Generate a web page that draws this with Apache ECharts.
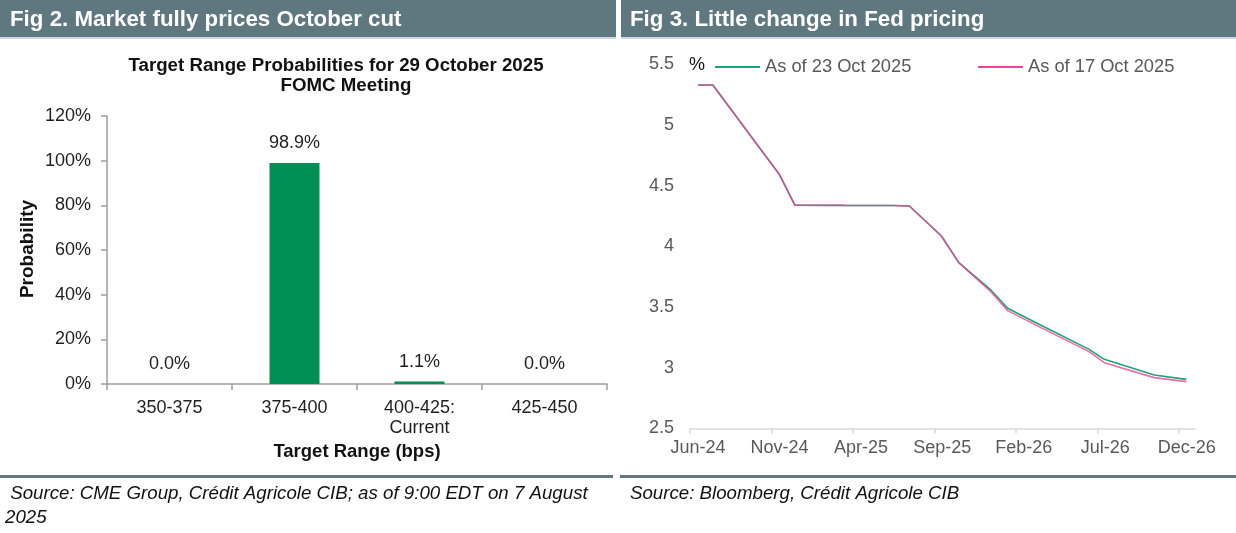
<!DOCTYPE html>
<html><head><meta charset="utf-8">
<script src="https://cdn.jsdelivr.net/npm/echarts@6/dist/echarts.min.js"></script>
<style>html,body{margin:0;padding:0;background:#fff}#c{width:1236px;height:533px}</style>
</head><body><div id="c"></div>
<script>
// ---- Fig 2 data ----
const barCategories = ['350-375', '375-400', '400-425:\nCurrent', '425-450'];
const barValues = [0.0, 98.9, 1.1, 0.0];
const barYMin = 0, barYMax = 120, barYStep = 20;

// ---- Fig 3 data ----
const datesOct23 = ['2024-06-16','2024-07-13','2024-11-16','2024-12-14','2025-03-15','2025-06-14','2025-07-15','2025-09-14','2025-10-16','2025-12-15','2026-01-16','2026-03-20','2026-06-16','2026-07-14','2026-10-16','2026-12-15'];
const valuesOct23 = [5.33, 5.33, 4.59, 4.34, 4.338, 4.337, 4.333, 4.086, 3.866, 3.641, 3.490, 3.344, 3.152, 3.070, 2.941, 2.905];
const datesOct17 = ['2024-06-16','2024-07-13','2024-11-16','2024-12-14','2025-03-15','2025-06-14','2025-07-15','2025-09-14','2025-10-16','2025-12-15','2026-01-16','2026-03-20','2026-06-16','2026-07-14','2026-10-16','2026-12-15'];
const valuesOct17 = [5.33, 5.33, 4.59, 4.34, 4.338, 4.337, 4.333, 4.086, 3.866, 3.627, 3.471, 3.325, 3.133, 3.042, 2.919, 2.886];
const lineXTickLabels = ['Jun-24', 'Nov-24', 'Apr-25', 'Sep-25', 'Feb-26', 'Jul-26', 'Dec-26'];
const lineYMin = 2.5, lineYMax = 5.5, lineYStep = 0.5;

const FONT = '"Liberation Sans", Arial, sans-serif';
const HEADER = '#5f7880';

// months since 1 Jun 2024
function toMonths(s) {
  const [y, m, d] = s.split('-').map(Number);
  return (y - 2024) * 12 + (m - 6) + (d - 1) / 30;
}
const xTickValues = lineXTickLabels.map((_, i) => i * 5);
const xLabelMap = {};
xTickValues.forEach((v, i) => xLabelMap[v] = lineXTickLabels[i]);

const chart = echarts.init(document.getElementById('c'), null, {renderer: 'canvas'});
chart.setOption({
  backgroundColor: '#fff',
  animation: false,
  textStyle: {fontFamily: FONT},
  graphic: [
    {type: 'rect', shape: {x: 0, y: 0, width: 616, height: 37}, style: {fill: HEADER}},
    {type: 'rect', shape: {x: 0, y: 37, width: 616, height: 2}, style: {fill: '#cfd8dc'}},
    {type: 'rect', shape: {x: 621, y: 0, width: 615, height: 37}, style: {fill: HEADER}},
    {type: 'rect', shape: {x: 621, y: 37, width: 615, height: 2}, style: {fill: '#cfd8dc'}},
    {type: 'text', x: 10, y: 20, style: {text: 'Fig 2. Market fully prices October cut', fill: '#fff', font: 'bold 22.3px ' + FONT, textVerticalAlign: 'middle'}},
    {type: 'text', x: 630, y: 20, style: {text: 'Fig 3. Little change in Fed pricing', fill: '#fff', font: 'bold 22.3px ' + FONT, textVerticalAlign: 'middle'}},
    {type: 'text', x: 336, y: 66, style: {text: 'Target Range Probabilities for 29 October 2025', fill: '#111', font: 'bold 18.7px ' + FONT, textAlign: 'center', textVerticalAlign: 'middle'}},
    {type: 'text', x: 346, y: 86, style: {text: 'FOMC Meeting', fill: '#111', font: 'bold 18.7px ' + FONT, textAlign: 'center', textVerticalAlign: 'middle'}},
    {type: 'text', x: 28, y: 249, rotation: Math.PI / 2, style: {text: 'Probability', fill: '#111', font: 'bold 19px ' + FONT, textAlign: 'center', textVerticalAlign: 'middle'}},
    {type: 'text', x: 697, y: 65, style: {text: '%', fill: '#111', font: '18px ' + FONT, textAlign: 'center', textVerticalAlign: 'middle'}},
    {type: 'rect', shape: {x: 0, y: 475, width: 613, height: 3}, style: {fill: HEADER}},
    {type: 'rect', shape: {x: 620, y: 475, width: 616, height: 3}, style: {fill: HEADER}},
    {type: 'text', x: 5, y: 494, style: {text: ' Source: CME Group, Crédit Agricole CIB; as of 9:00 EDT on 7 August', fill: '#111', font: 'italic 18.7px ' + FONT, textVerticalAlign: 'middle'}},
    {type: 'text', x: 5, y: 518, style: {text: '2025', fill: '#111', font: 'italic 18.7px ' + FONT, textVerticalAlign: 'middle'}},
    {type: 'text', x: 630, y: 494, style: {text: 'Source: Bloomberg, Crédit Agricole CIB', fill: '#111', font: 'italic 18.7px ' + FONT, textVerticalAlign: 'middle'}}
  ],
  legend: [
    {data: ['As of 23 Oct 2025'], left: 710, top: 52, icon: 'rect', itemWidth: 45, itemHeight: 2,
     textStyle: {color: '#595959', fontSize: 18.3, fontFamily: FONT, lineHeight: 20}},
    {data: ['As of 17 Oct 2025'], left: 973, top: 52, icon: 'rect', itemWidth: 45, itemHeight: 2,
     textStyle: {color: '#595959', fontSize: 18.3, fontFamily: FONT, lineHeight: 20}}
  ],
  grid: [
    {left: 107, top: 116, width: 500, height: 268, containLabel: false},
    {left: 690, top: 64.3, width: 505, height: 364.2, containLabel: false}
  ],
  xAxis: [
    {
      gridIndex: 0, type: 'category', data: barCategories,
      axisLine: {lineStyle: {color: '#9e9e9e', width: 1.5}},
      axisTick: {show: true, length: 6, lineStyle: {color: '#9e9e9e', width: 1.5}},
      axisLabel: {color: '#1f1f1f', fontSize: 18, lineHeight: 20, margin: 14, fontFamily: FONT, interval: 0},
      name: 'Target Range (bps)', nameLocation: 'middle', nameGap: 54,
      nameTextStyle: {color: '#111', fontSize: 18.5, fontWeight: 'bold', fontFamily: FONT}
    },
    {
      gridIndex: 1, type: 'value', min: 0, max: 31,
      axisLine: {lineStyle: {color: '#d9d9d9', width: 1.5}},
      axisTick: {show: true, length: 5, lineStyle: {color: '#d9d9d9', width: 1.5}, customValues: xTickValues},
      axisLabel: {color: '#595959', fontSize: 18, margin: 11, fontFamily: FONT, customValues: xTickValues,
        padding: [0, 0, 0, 16], formatter: v => xLabelMap[v] || ''},
      splitLine: {show: false}
    }
  ],
  yAxis: [
    {
      gridIndex: 0, type: 'value', min: barYMin, max: barYMax, interval: barYStep,
      axisLine: {show: true, lineStyle: {color: '#9e9e9e', width: 1.5}},
      axisTick: {show: true, length: 6, lineStyle: {color: '#9e9e9e', width: 1.5}},
      axisLabel: {color: '#1f1f1f', fontSize: 18, margin: 16, fontFamily: FONT, formatter: '{value}%'},
      splitLine: {show: false}
    },
    {
      gridIndex: 1, type: 'value', min: lineYMin, max: lineYMax, interval: lineYStep,
      axisLine: {show: false}, axisTick: {show: false},
      axisLabel: {color: '#595959', fontSize: 18, margin: 16, fontFamily: FONT},
      splitLine: {show: false}
    }
  ],
  series: [
    {
      type: 'bar', xAxisIndex: 0, yAxisIndex: 0, data: barValues, barWidth: '40%',
      itemStyle: {color: '#028f56'},
      label: {show: true, position: 'top', distance: 11, color: '#1f1f1f', fontSize: 18, fontFamily: FONT,
        formatter: p => p.value.toFixed(1) + '%'}
    },
    {
      name: 'As of 23 Oct 2025', type: 'line', xAxisIndex: 1, yAxisIndex: 1,
      data: datesOct23.map((d, i) => [toMonths(d), valuesOct23[i]]),
      showSymbol: false, symbol: 'none', color: '#1fa372',
      lineStyle: {color: '#1fa372', width: 1.6}
    },
    {
      name: 'As of 17 Oct 2025', type: 'line', xAxisIndex: 1, yAxisIndex: 1,
      data: datesOct17.map((d, i) => [toMonths(d), valuesOct17[i]]),
      showSymbol: false, symbol: 'none', color: '#e6479c',
      lineStyle: {color: '#e6479c', width: 1.6, opacity: 0.8}
    }
  ]
});
</script></body></html>
